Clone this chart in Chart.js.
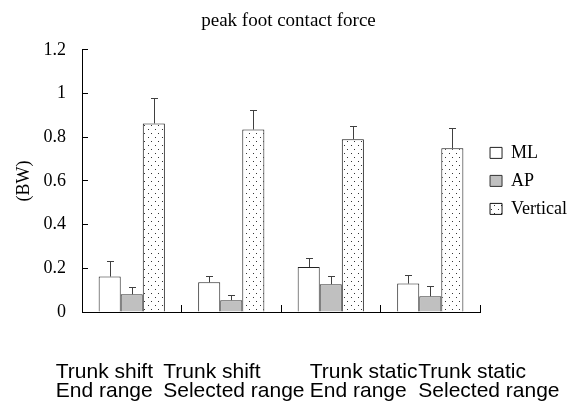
<!DOCTYPE html>
<html>
<head>
<meta charset="utf-8">
<script src="https://cdn.jsdelivr.net/npm/chart.js@4.4.1/dist/chart.umd.min.js"></script>
<style>
  html, body { margin: 0; padding: 0; background: #fff; }
  #wrap { width: 575px; height: 406px; }
</style>
</head>
<body>
<div id="wrap"><canvas id="c" width="575" height="406"></canvas></div>
<script>
// ---- data ----
const categories = [
  ["Trunk shift", "End range"],
  ["Trunk shift", "Selected range"],
  ["Trunk static", "End range"],
  ["Trunk static", "Selected range"]
];
const seriesNames = ["ML", "AP", "Vertical"];
const mlValues = [0.162, 0.136, 0.206, 0.130];
const mlErrors = [0.070, 0.028, 0.043, 0.041];
const apValues = [0.081, 0.054, 0.127, 0.072];
const apErrors = [0.034, 0.024, 0.037, 0.046];
const verticalValues = [0.863, 0.835, 0.791, 0.750];
const verticalErrors = [0.115, 0.089, 0.061, 0.090];
const yTicks = [0, 0.2, 0.4, 0.6, 0.8, 1, 1.2];
const yTickLabels = ["0", "0.2", "0.4", "0.6", "0.8", "1", "1.2"];
const chartTitle = "peak foot contact force";
const yTitle = "(BW)";

// ---- dotted pattern for "Vertical" ----
function makeDots() {
  const t = document.createElement('canvas');
  t.width = 7; t.height = 8;
  const g = t.getContext('2d');
  g.fillStyle = '#ffffff';
  g.fillRect(0, 0, 7, 8);
  g.fillStyle = '#333333';
  g.fillRect(1, 1, 1, 1);
  g.fillRect(4, 5, 1, 1);
  return document.getElementById('c').getContext('2d').createPattern(t, 'repeat');
}
const dots = makeDots();

const errorSets = [mlErrors, apErrors, verticalErrors];

const errorBarPlugin = {
  id: 'errorBars',
  afterDatasetsDraw(chart) {
    const ctx = chart.ctx;
    const yScale = chart.scales.y;
    ctx.save();
    ctx.strokeStyle = '#404040';
    ctx.lineWidth = 1;
    chart.data.datasets.forEach((ds, i) => {
      const meta = chart.getDatasetMeta(i);
      const errs = errorSets[i];
      meta.data.forEach((bar, j) => {
        const x = Math.round(bar.x) + 0.5;
        const yTop = Math.round(yScale.getPixelForValue(ds.data[j] + errs[j])) + 0.5;
        const yBar = bar.y;
        ctx.beginPath();
        ctx.moveTo(x, yBar);
        ctx.lineTo(x, yTop);
        ctx.moveTo(x - 3.5, yTop);
        ctx.lineTo(x + 3.5, yTop);
        ctx.stroke();
      });
    });
    ctx.restore();
  }
};

// category labels, left-aligned lines placed relative to each category
const labelShift = [-76, -68, -21, -12];
const xLabelPlugin = {
  id: 'xLabels',
  afterDraw(chart) {
    const ctx = chart.ctx;
    const xs = chart.scales.x;
    ctx.save();
    ctx.fillStyle = '#000';
    ctx.font = '21px "Liberation Sans", Arial, sans-serif';
    ctx.textAlign = 'left';
    ctx.textBaseline = 'alphabetic';
    categories.forEach((lines, i) => {
      const x = xs.getPixelForValue(i) + labelShift[i];
      lines.forEach((ln, k) => {
        ctx.fillText(ln, x, xs.top + 66 + k * 19);
      });
    });
    ctx.restore();
  }
};

const serif = '"Liberation Serif", "Times New Roman", serif';

new Chart(document.getElementById('c'), {
  type: 'bar',
  data: {
    labels: categories.map(c => c.join(' ')),
    datasets: [
      { label: seriesNames[0], data: mlValues, backgroundColor: '#ffffff', borderColor: '#222222', borderWidth: 1 },
      { label: seriesNames[1], data: apValues, backgroundColor: '#c0c0c0', borderColor: '#333333', borderWidth: 1 },
      { label: seriesNames[2], data: verticalValues, backgroundColor: dots, borderColor: '#111111', borderWidth: 1 }
    ]
  },
  options: {
    responsive: false,
    animation: false,
    devicePixelRatio: 1,
    layout: { padding: { left: 0, right: -2, top: 0, bottom: 0 } },
    datasets: { bar: { barPercentage: 1.0, categoryPercentage: 0.665 } },
    plugins: {
      title: {
        display: true,
        text: chartTitle,
        color: '#000',
        font: { family: serif, size: 19, weight: 'normal', lineHeight: 1.2 },
        padding: { top: 10, bottom: 17 }
      },
      legend: {
        display: true,
        position: 'right',
        align: 'center',
        fullSize: false,
        labels: {
          color: '#000',
          boxWidth: 12,
          boxHeight: 11,
          padding: 10,
          font: { family: serif, size: 18 }
        }
      },
      tooltip: { enabled: false }
    },
    scales: {
      x: {
        grid: { display: true, offset: true, drawOnChartArea: false, drawTicks: true, tickLength: -7, color: '#000' },
        border: { display: true, color: '#000', width: 1 },
        ticks: { display: false },
        afterFit(scale) { scale.height = 94; }
      },
      y: {
        min: 0,
        max: 1.2,
        afterBuildTicks(scale) { scale.ticks = yTicks.map(v => ({ value: v })); },
        grid: { display: true, drawOnChartArea: false, drawTicks: true, tickLength: -6, color: '#000' },
        border: { display: true, color: '#000', width: 1 },
        ticks: {
          color: '#000', padding: 22, font: { family: serif, size: 18 },
          callback: (v) => { const k = yTicks.indexOf(v); return k >= 0 ? yTickLabels[k] : ''; }
        },
        title: {
          display: true,
          text: yTitle,
          color: '#000',
          font: { family: serif, size: 18 },
          padding: { top: 13, bottom: 0 }
        },
        afterFit(scale) { scale.width = 82; }
      }
    }
  },
  plugins: [errorBarPlugin, xLabelPlugin]
});
</script>
</body>
</html>
